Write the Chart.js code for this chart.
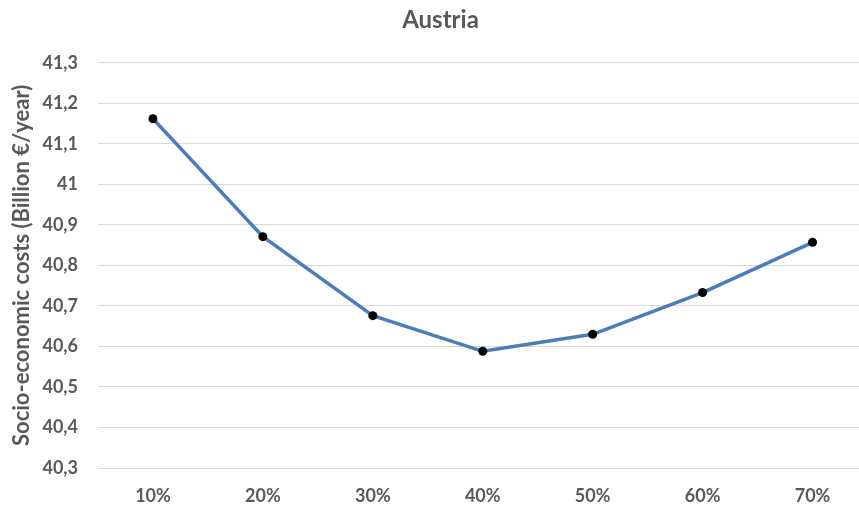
<!DOCTYPE html>
<html>
<head>
<meta charset="utf-8">
<script src="https://cdn.jsdelivr.net/npm/chart.js@4"></script>
<style>
  html, body { margin: 0; padding: 0; overflow: hidden; background: #fff; }
  #wrap { width: 872px; height: 508px; position: relative; }
</style>
</head>
<body>
<div id="wrap"><canvas id="c"></canvas></div>
<script>
const chartTitle = "Austria";
const yAxisTitle = "Socio-economic costs (Billion €/year)";
const categories = ["10%", "20%", "30%", "40%", "50%", "60%", "70%"];
const costs = [41.162, 40.871, 40.676, 40.588, 40.630, 40.733, 40.857];
const yMin = 40.3, yMax = 41.3, yStep = 0.1;

const grey = "#595959";
const fontFam = "Lato, 'Open Sans', sans-serif";

new Chart(document.getElementById("c"), {
  type: "line",
  data: {
    labels: categories,
    datasets: [{
      data: costs,
      borderColor: "#4A7EBB",
      borderWidth: 3.5,
      pointBackgroundColor: "#000",
      pointBorderColor: "#000",
      pointRadius: 4.5,
      pointBorderWidth: 0,
      tension: 0,
      fill: false
    }]
  },
  options: {
    responsive: true,
    maintainAspectRatio: false,
    animation: false,
    layout: { padding: { left: 9, right: 0, top: 4, bottom: 0 } },
    plugins: {
      legend: { display: false },
      tooltip: { enabled: false },
      title: {
        display: true,
        text: chartTitle,
        color: grey,
        font: { family: fontFam, size: 24, weight: "bold" },
        padding: { top: 2, bottom: 28 }
      }
    },
    scales: {
      x: {
        offset: true,
        afterFit: (s) => { s.height = 40; },
        grid: { display: false },
        border: { display: false },
        ticks: { color: grey, font: { family: fontFam, size: 18, weight: "bold" }, padding: 9 }
      },
      y: {
        min: yMin, max: yMax,
        afterFit: (s) => { s.width = 89; },
        grid: { color: "#d9d9d9", lineWidth: 1, drawTicks: false },
        border: { display: false },
        ticks: {
          stepSize: yStep,
          color: grey,
          padding: 20,
          font: { family: fontFam, size: 18, weight: "bold" },
          callback: (v) => {
            const r = Math.round(v * 10) / 10;
            return Number.isInteger(r) ? String(r) : r.toFixed(1).replace(".", ",");
          }
        },
        title: {
          display: true,
          text: yAxisTitle,
          color: grey,
          font: { family: fontFam, size: 22, weight: "bold" },
          padding: { top: 0, bottom: 0 }
        }
      }
    }
  }
});
</script>
</body>
</html>
